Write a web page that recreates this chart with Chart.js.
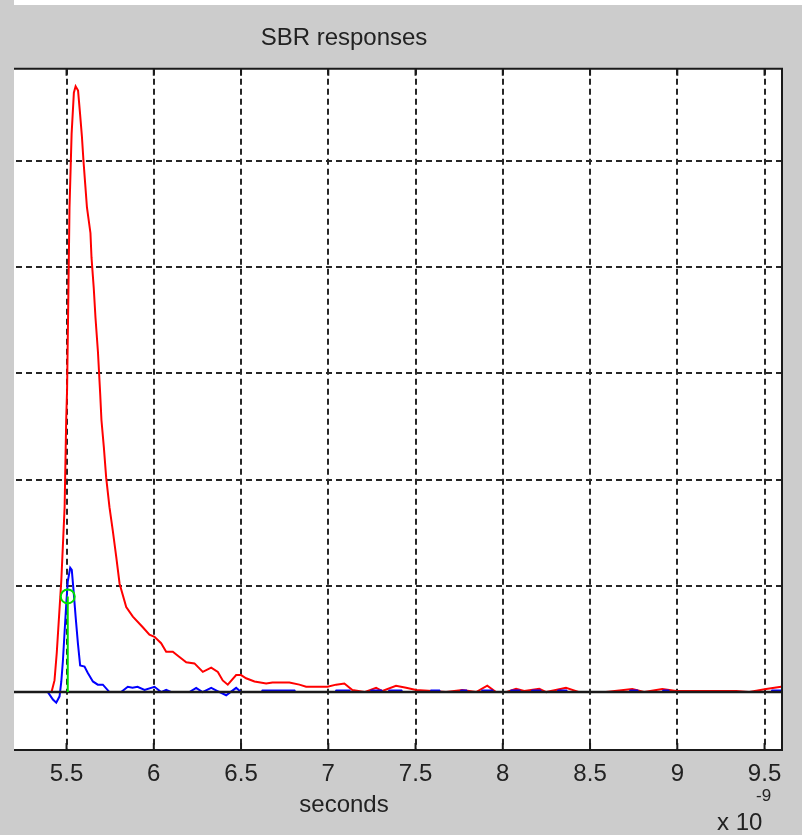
<!DOCTYPE html>
<html>
<head>
<meta charset="utf-8">
<script src="https://cdn.jsdelivr.net/npm/chart.js@4.4.1/dist/chart.umd.min.js"></script>
<style>
  html, body { margin: 0; padding: 0; }
  body { width: 802px; height: 835px; background: #cccccc; position: relative; overflow: hidden; }
  #sbrChart { position: absolute; left: -108px; top: 0; }
  #leftStrip { position: absolute; left: 0; top: 0; width: 14px; height: 835px; background: #cccccc; }
  #topStrip { position: absolute; left: 14px; top: 0; width: 788px; height: 5px; background: #ffffff; }
</style>
</head>
<body>
<canvas id="sbrChart" width="910" height="835"></canvas>
<div id="leftStrip"></div>
<div id="topStrip"></div>
<script>
// time axis in ns (x 10^-9 s)
const xTicks = [5.5, 6, 6.5, 7, 7.5, 8, 8.5, 9, 9.5];
const yTicks = [1, 2, 3, 4, 5];

const redTime = [5.414, 5.431, 5.444, 5.470, 5.489, 5.498, 5.503, 5.509, 5.517, 5.529, 5.542, 5.552,
  5.566, 5.577, 5.588, 5.597, 5.607, 5.617, 5.637, 5.643, 5.656, 5.666, 5.680, 5.693, 5.700, 5.714,
  5.727, 5.746, 5.765, 5.785, 5.804, 5.842, 5.880, 5.937, 5.975, 6.004, 6.042, 6.071, 6.109, 6.147,
  6.186, 6.233, 6.281, 6.329, 6.367, 6.395, 6.424, 6.472, 6.500, 6.529, 6.577, 6.644, 6.680, 6.777,
  6.834, 6.873, 6.995, 7.045, 7.092, 7.138, 7.207, 7.274, 7.310, 7.388, 7.446, 7.503, 7.596, 7.675,
  7.768, 7.847, 7.911, 7.961, 8.018, 8.076, 8.123, 8.209, 8.249, 8.362, 8.438, 8.591, 8.742, 8.810,
  8.914, 8.994, 9.337, 9.412, 9.509, 9.595];
const redValue = [0, 0.11, 0.37, 1.05, 1.74, 2.56, 2.84, 3.56, 4.56, 5.25, 5.64, 5.70,
  5.66, 5.45, 5.23, 5.00, 4.78, 4.56, 4.32, 4.09, 3.80, 3.52, 3.20, 2.80, 2.56, 2.30,
  2.02, 1.74, 1.52, 1.27, 1.02, 0.80, 0.71, 0.61, 0.54, 0.52, 0.46, 0.38, 0.38, 0.33,
  0.28, 0.27, 0.19, 0.23, 0.19, 0.11, 0.07, 0.16, 0.16, 0.13, 0.10, 0.08, 0.09, 0.09,
  0.07, 0.05, 0.05, 0.07, 0.08, 0.02, 0.00, 0.04, 0.01, 0.06, 0.04, 0.02, 0.01, 0.00,
  0.02, 0.00, 0.06, 0.00, 0.00, 0.03, 0.01, 0.03, 0.00, 0.04, 0.00, 0.00, 0.03, 0.00,
  0.03, 0.01, 0.01, 0.00, 0.03, 0.05];

const blueTime = [5.393, 5.422, 5.441, 5.460, 5.470, 5.479, 5.489, 5.498, 5.507, 5.521, 5.530, 5.540,
  5.552, 5.565, 5.578, 5.603, 5.622, 5.651, 5.679, 5.708, 5.746, 5.813, 5.851, 5.878, 5.907, 5.947,
  6.004, 6.042, 6.071, 6.101, 6.204, 6.243, 6.279, 6.329, 6.365, 6.415, 6.439, 6.472, 6.500,
  6.618, 6.623, 6.806, 6.811, 7.041, 7.046, 7.121, 7.126, 7.242, 7.247, 7.304, 7.309,
  7.345, 7.350, 7.419, 7.424, 7.585, 7.590, 7.636, 7.641, 7.757, 7.762, 7.791, 7.796,
  7.878, 7.883, 7.940, 7.945, 8.044, 8.049, 8.095, 8.100, 8.164, 8.169, 8.215, 8.220,
  8.313, 8.318, 8.364, 8.369, 8.726, 8.731, 8.771, 8.776, 8.915, 8.920, 8.949, 8.954,
  9.539, 9.544, 9.595];
const blueValue = [0, -0.07, -0.10, -0.04, 0.10, 0.29, 0.57, 0.82, 1.04, 1.17, 1.15, 0.96,
  0.71, 0.46, 0.25, 0.24, 0.18, 0.10, 0.07, 0.07, 0.00, 0.00, 0.05, 0.04, 0.05, 0.02,
  0.05, 0.00, 0.02, 0.00, 0.00, 0.04, 0.00, 0.04, 0.01, -0.03, 0.00, 0.04, 0.00,
  0, 0.015, 0.015, 0, 0, 0.015, 0.015, 0, 0, 0.015, 0.015, 0,
  0, 0.015, 0.015, 0, 0, 0.015, 0.015, 0, 0, 0.015, 0.015, 0,
  0, 0.015, 0.015, 0, 0, 0.015, 0.015, 0, 0, 0.015, 0.015, 0,
  0, 0.015, 0.015, 0, 0, 0.015, 0.015, 0, 0, 0.015, 0.015, 0,
  0, 0.015, 0.015];

const greenTime = [5.507, 5.507];
const greenValue = [0, 0.90];

const zeroTime = [4.58, 9.6];
const zeroValue = [0, 0];

const toPoints = (xs, ys) => xs.map((x, i) => ({ x: x, y: ys[i] }));

const textColor = '#222222';
const fontFamily = '"Liberation Sans", Arial, sans-serif';

// white axes background
const plotBackground = {
    id: 'plotBackground',
    beforeDraw(chart) {
        const { ctx, chartArea: { left, right, top, bottom } } = chart;
        ctx.save();
        ctx.fillStyle = '#ffffff';
        ctx.fillRect(left, top, right - left, bottom - top);
        ctx.restore();
    }
};

const frame = {
    id: 'frame',
    afterDraw(chart) {
        const { ctx, chartArea: { left, right, top, bottom }, scales: { x } } = chart;
        ctx.save();
        ctx.strokeStyle = '#1a1a1a';
        ctx.lineWidth = 2;
        ctx.beginPath();
        ctx.moveTo(left, top);
        ctx.lineTo(right, top);
        ctx.lineTo(right, bottom);
        ctx.stroke();
        // inward tick marks
        ctx.lineWidth = 2;
        xTicks.forEach(v => {
            const px = x.getPixelForValue(v);
            ctx.beginPath();
            ctx.moveTo(px, top);
            ctx.lineTo(px, top + 7);
            ctx.moveTo(px, bottom);
            ctx.lineTo(px, bottom - 7);
            ctx.stroke();
        });
        // exponent label
        ctx.fillStyle = textColor;
        ctx.textBaseline = 'alphabetic';
        ctx.font = '24px ' + fontFamily;
        ctx.fillText('x 10', right - 65, 830);
        ctx.font = '17px ' + fontFamily;
        ctx.fillText('-9', right - 26, 801);
        ctx.restore();
    }
};

new Chart(document.getElementById('sbrChart').getContext('2d'), {
    type: 'line',
    data: {
        datasets: [
            {
                data: toPoints(greenTime, greenValue),
                borderColor: '#00e000',
                borderWidth: 2,
                pointRadius: [0, 7],
                pointBorderColor: '#00e000',
                pointBackgroundColor: 'rgba(0,0,0,0)',
                pointBorderWidth: 2
            },
            {
                data: toPoints(zeroTime, zeroValue),
                borderColor: '#1a1a1a',
                borderWidth: 2.5,
                pointRadius: 0
            },
            {
                data: toPoints(blueTime, blueValue),
                borderColor: '#0000ff',
                borderWidth: 2,
                pointRadius: 0
            },
            {
                data: toPoints(redTime, redValue),
                borderColor: '#ff0000',
                borderWidth: 2,
                pointRadius: 0
            }
        ]
    },
    options: {
        responsive: false,
        animation: false,
        layout: { padding: { left: 14, right: 20, top: 0, bottom: 0 } },
        elements: { line: { tension: 0 } },
        scales: {
            x: {
                type: 'linear',
                min: 4.58,
                max: 9.6,
                afterBuildTicks(scale) { scale.ticks = xTicks.map(v => ({ value: v })); },
                afterFit(scale) { scale.height = 85; },
                ticks: {
                    color: textColor,
                    font: { size: 24, family: fontFamily },
                    padding: 10,
                    maxRotation: 0,
                    autoSkip: false,
                    callback: v => String(v)
                },
                grid: { color: '#262626', lineWidth: 2, drawTicks: false },
                border: { display: true, color: '#1a1a1a', width: 2, dash: [6, 4] },
                title: {
                    display: true,
                    text: 'seconds',
                    color: textColor,
                    font: { size: 24, family: fontFamily },
                    padding: { top: 0, bottom: 15 }
                }
            },
            y: {
                type: 'linear',
                min: -0.545,
                max: 5.865,
                afterBuildTicks(scale) { scale.ticks = yTicks.map(v => ({ value: v })); },
                afterFit(scale) { scale.width = 0; },
                ticks: { display: false },
                grid: { color: '#262626', lineWidth: 2, drawTicks: false },
                border: { display: false, dash: [6, 4] }
            }
        },
        plugins: {
            legend: { display: false },
            tooltip: { enabled: false },
            title: {
                display: true,
                text: 'SBR responses',
                color: textColor,
                font: { size: 24, family: fontFamily, weight: 'normal' },
                padding: { top: 24, bottom: 16 }
            }
        }
    },
    plugins: [plotBackground, frame]
});
</script>
</body>
</html>
